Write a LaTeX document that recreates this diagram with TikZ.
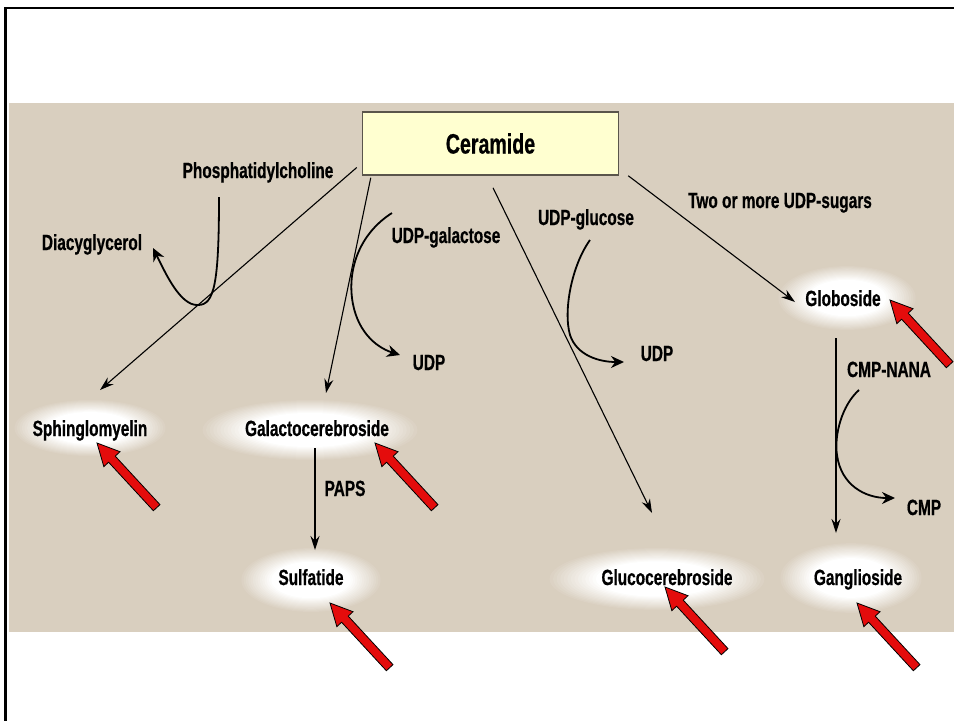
\documentclass[tikz,border=0pt]{standalone}
\usepackage{fontspec}
\newfontfamily\labfont{Liberation Sans}[FakeStretch=0.70, BoldFeatures={FakeBold=0.6}]
\usetikzlibrary{arrows.meta}
\definecolor{panel}{RGB}{217,207,191}
\definecolor{cerfill}{RGB}{255,255,208}
\definecolor{cerline}{RGB}{90,85,75}
\definecolor{redarr}{RGB}{228,12,12}
\newcommand\glowat[4]{%
  \foreach \k in {0,...,14}{%
    \pgfmathtruncatemacro\pct{round(100*\k/14)}%
    \pgfmathsetmacro\sc{1-0.032*\k}%
    \fill[white!\pct!panel] (#1,#2) ellipse [x radius=\sc*#3, y radius=\sc*#4];
  }}
\tikzset{
  lbl/.style={font=\labfont\fontsize{22}{26}\bfseries\selectfont, inner sep=0pt, text height=16pt, text depth=0pt, text=black},
  rxn/.style={-{Stealth[length=14pt,width=9pt]}, line width=1.1pt},
  side/.style={-{Stealth[length=13pt,width=12pt]}, line width=1.8pt},
  redarrow/.pic={\draw[fill=redarr, line width=0.8pt, line join=miter] (0,0) -- (22,11) -- (22,4.5) -- (88,4.5) -- (88,-4.5) -- (22,-4.5) -- (22,-11) -- cycle;}
}
\begin{document}
\begin{tikzpicture}[x=1pt,y=-1pt]
\useasboundingbox (0,0) rectangle (954,721);
\fill[white] (0,0) rectangle (954,721);
\fill[panel] (9,103) rectangle (954,632);
\draw[line width=2.5pt] (4,8) -- (954,8);
\draw[line width=2.5pt] (5.5,8) -- (5.5,721);

% glows
\glowat{90}{428}{78}{29}
\glowat{310}{430}{111}{31}
\glowat{311}{580}{72}{33}
\glowat{657}{579}{111}{32}
\glowat{851}{578}{73}{36}
\glowat{847}{298}{71}{33}

% nodes
\node[draw=cerline, fill=cerfill, line width=1.5pt, minimum width=256pt, minimum height=63pt, inner sep=0pt,
      font=\labfont\fontsize{28}{32}\bfseries\selectfont, text height=20pt, text depth=0pt] (cer) at (490.5,143.5) {Ceramide};
\node[lbl] (phos) at (258,170) {Phosphatidylcholine};
\node[lbl] (diac) at (92,242) {Diacyglycerol};
\node[lbl] (udpgal) at (446,235) {UDP-galactose};
\node[lbl] (udp1) at (429,362) {UDP};
\node[lbl] (udpglc) at (586,217) {UDP-glucose};
\node[lbl] (udp2) at (657,353) {UDP};
\node[lbl] (two) at (780,200) {Two or more UDP-sugars};
\node[lbl] (glob) at (843,298) {Globoside};
\node[lbl] (cmpnana) at (889,369) {CMP-NANA};
\node[lbl] (cmp) at (924,507) {CMP};
\node[lbl] (sph) at (90,428) {Sphinglomyelin};
\node[lbl] (galc) at (317,428) {Galactocerebroside};
\node[lbl] (paps) at (345,488) {PAPS};
\node[lbl] (sulf) at (311,577) {Sulfatide};
\node[lbl] (gluc) at (667,577) {Glucocerebroside};
\node[lbl] (gang) at (858,577) {Ganglioside};

% straight reaction arrows
\draw[rxn] ([shift={(-5,24)}]cer.west) -- ([shift={(10,-38)}]sph.center);
\draw[rxn] ([shift={(9,2)}]cer.south west) -- ([shift={(9,-35)}]galc.center);
\draw[rxn] ([shift={(2.5,12)}]cer.south) -- ([shift={(-15,-64)}]gluc.center);
\draw[rxn] ([shift={(9,0)}]cer.south east) -- ([shift={(-48,4)}]glob.center);
\draw[rxn] ([shift={(-7,40)}]glob.center) -- ([shift={(-22,-44)}]gang.center);
\draw[rxn] ([shift={(-2,20)}]galc.center) -- ([shift={(4,-27)}]sulf.center);

% curved side arrows
\draw[side] ([shift={(-39,27)}]phos.center) .. controls (219,285) and (214,305) .. (198,305)
            .. controls (180,306) and (165,272) .. ([shift={(61,6)}]diac.center);
\draw[side] ([shift={(-54,-22)}]udpgal.center) .. controls (362,232) and (348,265) .. (352,298)
            .. controls (356,330) and (375,347) .. ([shift={(-29,-7)}]udp1.center);
\draw[side] ([shift={(4,23)}]udpglc.center) .. controls (572,265) and (563,310) .. (570,335)
            .. controls (577,356) and (600,362) .. ([shift={(-33,9)}]udp2.center);
\draw[side] ([shift={(-30,21)}]cmpnana.center) .. controls (842,405) and (834,435) .. (837,455)
            .. controls (841,485) and (865,498) .. ([shift={(-29,-9)}]cmp.center);

% red pointer arrows
\pic[rotate=-47.3] at (97,443) {redarrow};
\pic[rotate=-47.3] at (375,443) {redarrow};
\pic[rotate=-47.3] at (330,603) {redarrow};
\pic[rotate=-47.3] at (665,587) {redarrow};
\pic[rotate=-47.3] at (857,603) {redarrow};
\pic[rotate=-47.3] at (890,300) {redarrow};
\end{tikzpicture}
\end{document}
